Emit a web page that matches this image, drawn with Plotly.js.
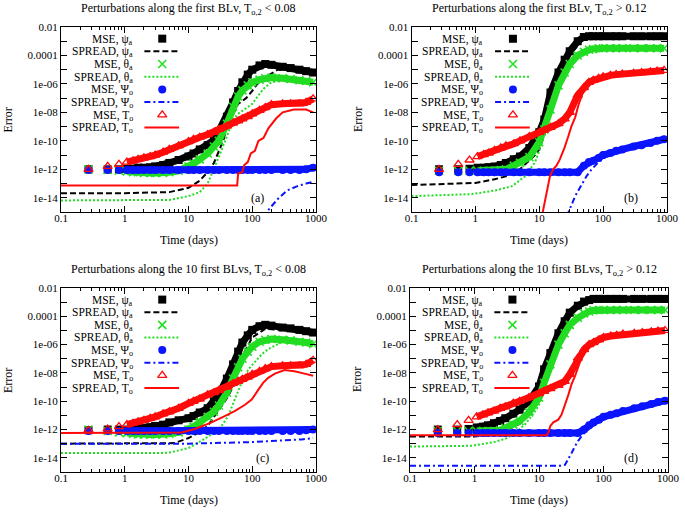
<!DOCTYPE html>
<html><head><meta charset="utf-8">
<script src="https://cdn.plot.ly/plotly-3.0.1.min.js"></script>
<style>html,body{margin:0;padding:0;background:#fff}#chart{width:685px;height:513px}</style>
</head><body><div id="chart"></div>
<script>
// ---------------- data ----------------
const panelTitles = [
  'Perturbations along the first BLv, T<sub>o,2</sub> &lt; 0.08',
  'Perturbations along the first BLv, T<sub>o,2</sub> &gt; 0.12',
  'Perturbations along the 10 first BLvs, T<sub>o,2</sub> &lt; 0.08',
  'Perturbations along the 10 first BLvs, T<sub>o,2</sub> &gt; 0.12'
];
const panelLetters = ['(a)', '(b)', '(c)', '(d)'];
const seriesNames = ['MSE, ψ<sub>a</sub>', 'SPREAD, ψ<sub>a</sub>', 'MSE, θ<sub>a</sub>', 'SPREAD, θ<sub>a</sub>',
                     'MSE, Ψ<sub>o</sub>', 'SPREAD, Ψ<sub>o</sub>', 'MSE, T<sub>o</sub>', 'SPREAD, T<sub>o</sub>'];
const xAxisTitle = 'Time (days)';
const yAxisTitle = 'Error';
const xTickVals = [0.1, 1, 10, 100, 1000];
const xTickText = ['0.1', '1', '10', '100', '1000'];
const xMinorVals = [0.2,0.3,0.4,0.5,0.6,0.7,0.8,0.9,2,3,4,5,6,7,8,9,20,30,40,50,60,70,80,90,200,300,400,500,600,700,800,900];
const yTickVals = [1e-2,1e-4,1e-6,1e-8,1e-10,1e-12,1e-14];
const yTickText = ['0.01','0.0001','1e-06','1e-08','1e-10','1e-12','1e-14'];
const yMinorVals = [1e-3,1e-5,1e-7,1e-9,1e-11,1e-13,1e-15];

// time (days) of the MSE samples (shared by all panels)
const timeMSE = [0.27,0.54,0.81,1.08,1.35,1.62,2,2.5,3,4,5,7,10,12,15,20,25,30,40,50,60,70,85,100,130,160,200,300,400,550,700,900];

// ---- panel (a)
const a_mse_psiA = [1.0e-12,1.0e-12,1.0e-12,1.1e-12,1.1e-12,1.3e-12,1.3e-12,1.4e-12,1.6e-12,2.0e-12,2.8e-12,4.5e-12,7.9e-12,1.3e-11,2.5e-11,5.0e-11,1.1e-10,5.0e-10,5.0e-9,5.0e-8,3.2e-7,1.3e-6,4.5e-6,1.0e-5,2.0e-5,2.5e-5,2.2e-5,1.6e-5,1.3e-5,1.0e-5,7.9e-6,6.3e-6];
const a_mse_thetaA = [1.0e-12,8.9e-13,7.9e-13,7.1e-13,6.3e-13,6.3e-13,5.6e-13,5.6e-13,5.6e-13,5.6e-13,6.3e-13,7.9e-13,1.6e-12,2.5e-12,5.0e-12,1.3e-11,4.0e-11,1.0e-10,1.6e-9,2.5e-8,1.3e-7,3.5e-7,7.9e-7,1.3e-6,2.0e-6,2.5e-6,2.8e-6,2.5e-6,2.2e-6,1.8e-6,1.6e-6,1.3e-6];
const a_mse_psiO = [8.9e-13,8.9e-13,8.9e-13,8.9e-13,8.9e-13,8.9e-13,8.9e-13,8.9e-13,8.9e-13,8.9e-13,8.9e-13,8.9e-13,8.9e-13,8.9e-13,8.9e-13,8.9e-13,8.9e-13,8.9e-13,8.9e-13,8.9e-13,8.9e-13,8.9e-13,8.9e-13,8.9e-13,8.9e-13,8.9e-13,8.9e-13,8.9e-13,8.9e-13,8.9e-13,1.0e-12,1.3e-12];
const a_mse_To = [1.0e-12,1.6e-12,2.2e-12,3.2e-12,4.0e-12,5.0e-12,6.3e-12,7.9e-12,1.0e-11,1.6e-11,2.5e-11,4.5e-11,8.9e-11,1.3e-10,1.8e-10,2.8e-10,4.0e-10,6.3e-10,1.1e-9,1.8e-9,2.5e-9,3.5e-9,5.0e-9,7.9e-9,1.4e-8,2.2e-8,3.5e-8,4.0e-8,4.0e-8,4.0e-8,5.0e-8,8.9e-8];
const a_spr_psiA_t = [0.1,1,5,10,15,20,25,30,35,40,50,60,70,80,100,120,150,180,250,400,900];
const a_spr_psiA = [2.1e-14,2.1e-14,2.5e-14,5.0e-14,1.6e-13,6.3e-13,2.8e-12,1.8e-11,1.0e-10,8.9e-10,7.9e-9,4.0e-8,6.3e-8,1.0e-7,3.2e-7,1.0e-6,2.2e-6,4.0e-6,1.0e-5,1.0e-5,6.3e-6];
const a_spr_thetaA_t = [0.1,1,5,10,15,20,25,30,40,50,60,70,100,130,150,200,300,500,900];
const a_spr_thetaA = [6.5e-15,6.5e-15,7.1e-15,1.3e-14,2.5e-14,1.0e-13,1.0e-12,7.9e-12,2.0e-10,3.2e-9,7.9e-9,1.3e-8,4.0e-8,2.0e-7,4.5e-7,1.3e-6,2.0e-6,1.6e-6,1.1e-6];
const a_spr_psiO_t = [150,168,200,250,350,500,700,900];
const a_spr_psiO = [4.0e-16,1.0e-15,2.5e-15,7.9e-15,3.2e-14,6.3e-14,1.0e-13,1.3e-13];
const a_spr_To_t = [0.1,58,60,70,75,85,95,110,125,150,180,240,300,450,700,900];
const a_spr_To = [7.4e-14,7.4e-14,5.0e-13,6.3e-13,2.0e-12,3.2e-12,1.3e-11,2.0e-11,1.0e-10,1.6e-10,7.9e-10,4.0e-9,1.0e-8,1.6e-8,1.6e-8,1.0e-8];

// ---- panel (b)
const b_mse_psiA = [1.0e-12,1.0e-12,1.1e-12,1.3e-12,1.3e-12,1.4e-12,1.6e-12,2.0e-12,2.8e-12,5.0e-12,7.9e-12,3.2e-11,4.0e-10,3.2e-9,2.5e-7,6.3e-6,5.0e-5,2.0e-4,1.0e-3,2.0e-3,2.2e-3,2.2e-3,2.2e-3,2.2e-3,2.2e-3,2.2e-3,2.2e-3,2.2e-3,2.2e-3,2.2e-3,2.2e-3,2.2e-3];
const b_mse_thetaA = [7.9e-13,7.9e-13,7.9e-13,7.9e-13,7.9e-13,7.9e-13,7.9e-13,8.9e-13,1.0e-12,1.8e-12,2.8e-12,7.1e-12,7.9e-11,6.3e-10,1.6e-8,7.9e-7,6.3e-6,2.5e-5,1.0e-4,1.8e-4,2.5e-4,2.8e-4,3.2e-4,3.2e-4,3.2e-4,3.2e-4,3.2e-4,3.2e-4,3.2e-4,3.2e-4,3.2e-4,3.2e-4];
const b_mse_psiO = [6.3e-13,6.3e-13,6.3e-13,6.3e-13,6.3e-13,6.3e-13,6.3e-13,6.3e-13,6.3e-13,6.3e-13,6.3e-13,6.3e-13,6.3e-13,6.3e-13,6.3e-13,6.3e-13,6.3e-13,6.3e-13,6.3e-13,1.8e-12,3.2e-12,4.0e-12,6.3e-12,1.0e-11,1.4e-11,2.0e-11,2.5e-11,4.0e-11,5.0e-11,7.1e-11,1.0e-10,1.3e-10];
const b_mse_To = [1.0e-12,2.2e-12,4.5e-12,7.9e-12,1.1e-11,1.4e-11,2.2e-11,3.2e-11,4.5e-11,6.3e-11,1.0e-10,2.0e-10,4.0e-10,5.6e-10,8.9e-10,1.6e-9,3.5e-9,1.0e-8,1.6e-7,5.6e-7,1.3e-6,1.8e-6,2.5e-6,3.2e-6,4.0e-6,4.5e-6,5.0e-6,5.6e-6,6.3e-6,7.1e-6,7.9e-6,8.9e-6];
const b_spr_psiA_t = [0.1,1,2,3,4.7,6.7,8.6,10,12,15,20,30,50,100,900];
const b_spr_psiA = [7.9e-14,1.1e-13,2.0e-13,3.2e-13,7.9e-13,3.2e-12,1.0e-11,2.5e-11,2.5e-10,1.6e-8,1.0e-6,1.0e-4,1.6e-3,2.0e-3,2.0e-3];
const b_spr_thetaA_t = [0.1,0.87,2,3.7,6,8.6,10.2,11.6,15,20,30,50,100,900];
const b_spr_thetaA = [1.3e-14,1.8e-14,3.2e-14,6.3e-14,3.2e-13,3.2e-12,2.5e-11,2.2e-10,1.6e-8,5.0e-7,2.0e-5,1.6e-4,2.8e-4,2.8e-4];
const b_spr_psiO_t = [27,36.5,46.5,55.5,66,85,108,200,400,900];
const b_spr_psiO = [5.0e-16,1.3e-14,8.9e-14,3.5e-13,1.0e-12,3.2e-12,7.1e-12,1.8e-11,4.0e-11,8.9e-11];
const b_spr_To_t = [11,13.1,14.7,16.5,18.6,21,24.8,28.6,32,36.5,41,50,70,100,200,900];
const b_spr_To = [5.0e-16,2.2e-14,3.2e-13,1.0e-12,1.8e-12,5.0e-12,3.2e-11,2.2e-10,1.1e-9,4.5e-9,3.2e-8,4.0e-7,1.4e-6,2.8e-6,5.0e-6,7.9e-6];

// ---- panel (c)
const c_mse_psiA = [8.9e-13,1.0e-12,1.0e-12,1.0e-12,1.1e-12,1.1e-12,1.3e-12,1.4e-12,1.8e-12,2.2e-12,3.2e-12,4.5e-12,6.3e-12,8.9e-12,1.6e-11,3.2e-11,1.0e-10,3.2e-10,4.0e-9,4.0e-8,3.2e-7,1.4e-6,4.5e-6,1.1e-5,2.0e-5,2.5e-5,2.2e-5,1.6e-5,1.4e-5,1.1e-5,8.9e-6,7.1e-6];
const c_mse_thetaA = [1.0e-12,7.9e-13,6.3e-13,5.6e-13,5.0e-13,4.5e-13,4.5e-13,4.5e-13,4.5e-13,4.5e-13,5.0e-13,6.3e-13,1.0e-12,1.6e-12,3.2e-12,7.9e-12,1.8e-11,5.0e-11,4.0e-10,4.0e-9,2.5e-8,1.0e-7,3.2e-7,7.1e-7,1.6e-6,2.2e-6,2.5e-6,2.2e-6,2.0e-6,1.6e-6,1.4e-6,1.1e-6];
const c_mse_psiO = [7.9e-13,7.9e-13,7.9e-13,7.9e-13,7.9e-13,7.9e-13,7.9e-13,7.9e-13,7.9e-13,7.9e-13,7.9e-13,7.9e-13,7.9e-13,7.9e-13,7.9e-13,7.9e-13,7.9e-13,7.9e-13,7.9e-13,7.9e-13,7.9e-13,7.9e-13,7.9e-13,7.9e-13,7.9e-13,7.9e-13,7.9e-13,7.9e-13,7.9e-13,7.9e-13,8.9e-13,1.0e-12];
const c_mse_To = [8.9e-13,1.1e-12,1.6e-12,2.2e-12,2.8e-12,3.5e-12,4.5e-12,6.3e-12,7.9e-12,1.3e-11,1.8e-11,3.2e-11,7.1e-11,1.0e-10,1.4e-10,2.8e-10,4.0e-10,5.6e-10,1.0e-9,1.8e-9,2.5e-9,3.5e-9,5.0e-9,7.9e-9,1.3e-8,2.0e-8,2.8e-8,3.2e-8,3.2e-8,3.2e-8,4.0e-8,7.9e-8];
const c_spr_psiA_t = [0.1,5,6,10,14,20,26,33,42,53,70,100,160,400,900];
const c_spr_psiA = [1.0e-13,1.0e-13,1.1e-13,2.5e-13,5.6e-13,1.8e-12,8.9e-12,4.5e-11,2.2e-10,2.0e-9,1.6e-7,3.2e-6,1.3e-5,1.0e-5,5.0e-6];
const c_spr_thetaA_t = [0.1,4,5.4,10,16,23,33,42,53,68,87,110,140,180,300,900];
const c_spr_thetaA = [2.2e-14,2.2e-14,2.5e-14,5.0e-14,1.6e-13,4.5e-13,1.8e-12,8.9e-12,1.3e-10,2.0e-9,1.8e-8,6.3e-8,2.0e-7,5.0e-7,1.6e-6,1.0e-6];
const c_spr_psiO_t = [0.1,10,100,300,600,900];
const c_spr_psiO = [1.0e-13,1.0e-13,1.3e-13,1.6e-13,2.0e-13,2.5e-13];
const c_spr_To_t = [0.1,3,7.8,12.6,23,37,53,77,98,124,148,178,226,322,460,660,900];
const c_spr_To = [5.6e-13,5.6e-13,6.3e-13,1.1e-12,3.2e-12,8.9e-12,2.0e-11,5.6e-11,1.3e-10,6.3e-10,2.0e-9,4.5e-9,8.9e-9,1.6e-8,1.3e-8,8.9e-9,6.3e-9];

// ---- panel (d)
const d_mse_psiA = [1.0e-12,1.0e-12,1.1e-12,1.4e-12,1.6e-12,2.0e-12,2.8e-12,4.0e-12,6.3e-12,1.3e-11,2.5e-11,1.0e-10,1.1e-9,1.8e-8,2.5e-7,6.3e-6,4.5e-5,1.8e-4,5.6e-4,1.1e-3,1.4e-3,1.7e-3,1.7e-3,1.7e-3,1.7e-3,1.7e-3,1.7e-3,1.7e-3,1.7e-3,1.7e-3,1.7e-3,1.7e-3];
const d_mse_thetaA = [7.9e-13,7.9e-13,7.9e-13,7.9e-13,7.9e-13,7.9e-13,7.9e-13,8.9e-13,1.3e-12,2.2e-12,4.0e-12,1.6e-11,1.8e-10,2.0e-9,4.0e-8,1.0e-6,6.3e-6,2.5e-5,7.9e-5,1.6e-4,2.2e-4,2.6e-4,2.8e-4,2.8e-4,2.8e-4,2.8e-4,2.8e-4,2.8e-4,2.8e-4,2.8e-4,2.8e-4,2.8e-4];
const d_mse_psiO = [5.6e-13,5.6e-13,5.6e-13,5.6e-13,5.6e-13,5.6e-13,5.6e-13,5.6e-13,5.6e-13,5.6e-13,5.6e-13,5.6e-13,5.6e-13,5.6e-13,5.6e-13,5.6e-13,5.6e-13,5.6e-13,5.6e-13,1.0e-12,2.0e-12,3.2e-12,5.0e-12,7.9e-12,1.1e-11,1.4e-11,2.0e-11,3.2e-11,4.5e-11,6.3e-11,8.9e-11,1.1e-10];
const d_mse_To = [1.0e-12,2.2e-12,4.5e-12,7.9e-12,1.1e-11,1.5e-11,2.0e-11,3.2e-11,4.0e-11,7.1e-11,1.0e-10,1.8e-10,3.5e-10,5.0e-10,7.9e-10,1.3e-9,2.5e-9,7.9e-9,1.1e-7,4.5e-7,1.0e-6,1.4e-6,2.2e-6,3.2e-6,4.0e-6,4.5e-6,5.6e-6,6.3e-6,7.1e-6,7.9e-6,8.9e-6,1.0e-5];
const d_spr_psiA_t = [0.1,1,2,3,5,7,10,15,20,30,50,100,900];
const d_spr_psiA = [3.2e-13,3.2e-13,4.5e-13,7.9e-13,2.5e-12,1.0e-11,3.2e-10,1.0e-7,3.2e-6,1.0e-4,1.0e-3,1.4e-3,1.4e-3];
const d_spr_thetaA_t = [0.1,0.9,2,3,4.2,6,7.7,9.8,11.6,15,20,30,50,100,900];
const d_spr_thetaA = [6.3e-14,7.1e-14,1.3e-13,2.2e-13,5.6e-13,2.2e-12,8.9e-12,4.5e-11,4.0e-10,2.5e-8,6.3e-7,1.6e-5,1.3e-4,2.5e-4,2.5e-4];
const d_spr_psiO_t = [0.1,22,25.3,28.5,32,36,40.5,48,58,70,100,200,400,900];
const d_spr_psiO = [2.8e-15,2.8e-15,3.2e-15,7.9e-15,2.2e-14,6.3e-14,1.6e-13,4.5e-13,1.0e-12,2.5e-12,6.3e-12,1.6e-11,3.5e-11,8.9e-11];
const d_spr_To_t = [0.1,13,13.9,15,16.7,19.9,22.3,25,28.5,32,36,45,60,100,200,900];
const d_spr_To = [4.0e-13,4.0e-13,5.6e-13,1.8e-12,3.2e-12,5.0e-12,1.1e-11,4.5e-11,2.8e-10,1.6e-9,5.6e-9,1.0e-7,7.9e-7,2.5e-6,4.5e-6,7.9e-6];

// ---------------- build ----------------
const panels = [
  {mse:[a_mse_psiA,a_mse_thetaA,a_mse_psiO,a_mse_To], sprT:[a_spr_psiA_t,a_spr_thetaA_t,a_spr_psiO_t,a_spr_To_t], spr:[a_spr_psiA,a_spr_thetaA,a_spr_psiO,a_spr_To]},
  {mse:[b_mse_psiA,b_mse_thetaA,b_mse_psiO,b_mse_To], sprT:[b_spr_psiA_t,b_spr_thetaA_t,b_spr_psiO_t,b_spr_To_t], spr:[b_spr_psiA,b_spr_thetaA,b_spr_psiO,b_spr_To]},
  {mse:[c_mse_psiA,c_mse_thetaA,c_mse_psiO,c_mse_To], sprT:[c_spr_psiA_t,c_spr_thetaA_t,c_spr_psiO_t,c_spr_To_t], spr:[c_spr_psiA,c_spr_thetaA,c_spr_psiO,c_spr_To]},
  {mse:[d_mse_psiA,d_mse_thetaA,d_mse_psiO,d_mse_To], sprT:[d_spr_psiA_t,d_spr_thetaA_t,d_spr_psiO_t,d_spr_To_t], spr:[d_spr_psiA,d_spr_thetaA,d_spr_psiO,d_spr_To]}
];

const W = 685, H = 513;
// plot-area boxes in pixels [left, right, top, bottom]
const boxes = [[61,316,27,212],[411.5,667,27,212],[61,316,288,472],[410,668,288,472]];
const letterPos = [[0.77,0.075],[0.86,0.075],[0.79,0.075],[0.857,0.075]];
const colors = ['#000000', '#22dd22', '#0a14ff', '#ff0a0a'];
const symbols = ['square', 'x-thin-open', 'circle', 'triangle-up-open'];
const symLine = [0, 1.6, 0, 1.3];
const dashes = ['6px,3px', '2px,2px', '6px,3px,2px,3px', 'solid'];
const FONT = 'Liberation Serif, Times New Roman, serif';

const traces = [];
const annotations = [];
const layout = {
  width: W, height: H,
  margin: {l:0, r:0, t:0, b:0},
  paper_bgcolor: '#ffffff', plot_bgcolor: 'rgba(0,0,0,0)',
  font: {family: FONT, size: 12, color: '#000'},
  showlegend: false,
  hovermode: false,
  annotations: annotations
};

panels.forEach((p, k) => {
  const n = k === 0 ? '' : String(k + 1);
  const xa = 'x' + n, ya = 'y' + n;
  const lx = 'x' + (k + 5), ly = 'y' + (k + 5);
  const b = boxes[k];
  layout['xaxis' + n] = {
    type: 'log', range: [-1, 3], domain: [b[0] / W, b[1] / W], anchor: ya,
    showline: true, linecolor: '#000', linewidth: 1, mirror: 'ticks',
    ticks: 'inside', ticklen: 6, tickcolor: '#000', tickwidth: 1,
    tickmode: 'array', tickvals: xTickVals, ticktext: xTickText, ticklabelstandoff: -4,
    tickfont: {family: FONT, size: 11, color: '#000'},
    minor: {tickmode: 'array', tickvals: xMinorVals, ticks: 'inside', ticklen: 3, tickcolor: '#000', tickwidth: 1},
    showgrid: false, zeroline: false, automargin: false
  };
  layout['yaxis' + n] = {
    type: 'log', range: [-15, -2], domain: [1 - b[3] / H, 1 - b[2] / H], anchor: xa,
    showline: true, linecolor: '#000', linewidth: 1, mirror: 'ticks',
    ticks: 'inside', ticklen: 6, tickcolor: '#000', tickwidth: 1,
    tickmode: 'array', tickvals: yTickVals, ticktext: yTickText,
    tickfont: {family: FONT, size: 11, color: '#000'},
    minor: {tickmode: 'array', tickvals: yMinorVals, ticks: 'inside', ticklen: 6, tickcolor: '#000', tickwidth: 1},
    showgrid: false, zeroline: false, automargin: false
  };
  // overlay axes in panel-fraction units for the in-plot key
  layout['xaxis' + (k + 5)] = {overlaying: xa, range: [0, 1], visible: false, anchor: ly};
  layout['yaxis' + (k + 5)] = {overlaying: ya, range: [0, 1], visible: false, anchor: lx};

  for (let s = 0; s < 4; s++) {
    const c = colors[s];
    // dense MSE samples form a band once the markers overlap (t >= 1.08)
    traces.push({x: timeMSE, y: p.mse[s].map((v, i) => (i < 3 ? null : v)), mode: 'lines',
      line: {color: c, width: 7}, connectgaps: false, xaxis: xa, yaxis: ya, hoverinfo: 'skip'});
    traces.push({x: timeMSE, y: p.mse[s], mode: 'markers',
      marker: {symbol: symbols[s], size: 8, color: c, line: {color: c, width: symLine[s]}},
      xaxis: xa, yaxis: ya, name: seriesNames[2 * s]});
    traces.push({x: p.sprT[s], y: p.spr[s], mode: 'lines',
      line: {color: c, width: 2, dash: dashes[s]}, xaxis: xa, yaxis: ya, name: seriesNames[2 * s + 1]});
  }

  // key (gnuplot style: text, then sample)
  for (let r = 0; r < 8; r++) {
    const yy = 0.937 - r * 0.0686;
    const s = Math.floor(r / 2), c = colors[s];
    if (r % 2 === 0) {
      traces.push({x: [0.397], y: [yy], mode: 'markers', xaxis: lx, yaxis: ly,
        marker: {symbol: symbols[s], size: 8, color: c, line: {color: c, width: symLine[s]}}});
    } else {
      traces.push({x: [0.327, 0.463], y: [yy, yy], mode: 'lines', xaxis: lx, yaxis: ly,
        line: {color: c, width: 2, dash: dashes[s]}});
    }
    annotations.push({xref: lx, yref: ly, x: 0.285, y: yy, xanchor: 'right', yanchor: 'middle',
      text: seriesNames[r], showarrow: false, font: {family: FONT, size: 11.5, color: '#000'},
      yshift: -1, borderpad: 0});
  }
  annotations.push({xref: lx, yref: ly, x: letterPos[k][0], y: letterPos[k][1], xanchor: 'center', yanchor: 'middle',
    text: panelLetters[k], showarrow: false, font: {family: FONT, size: 12, color: '#000'}});
  // panel title
  annotations.push({xref: 'paper', yref: 'paper', x: (b[0] + b[1]) / 2 / W, y: 1 - (b[2] - 18) / H,
    xanchor: 'center', yanchor: 'middle', text: panelTitles[k], showarrow: false,
    font: {family: FONT, size: 12, color: '#000'}});
  // axis titles
  annotations.push({xref: 'paper', yref: 'paper', x: (b[0] + b[1]) / 2 / W, y: 1 - (b[3] + 28) / H,
    xanchor: 'center', yanchor: 'middle', text: xAxisTitle, showarrow: false,
    font: {family: FONT, size: 12, color: '#000'}});
  annotations.push({xref: 'paper', yref: 'paper', x: (b[0] - 53) / W, y: 1 - (b[2] + b[3]) / 2 / H,
    xanchor: 'center', yanchor: 'middle', text: yAxisTitle, textangle: -90, showarrow: false,
    font: {family: FONT, size: 12, color: '#000'}});
});

Plotly.newPlot('chart', traces, layout, {staticPlot: true, displayModeBar: false});
</script>
</body></html>
